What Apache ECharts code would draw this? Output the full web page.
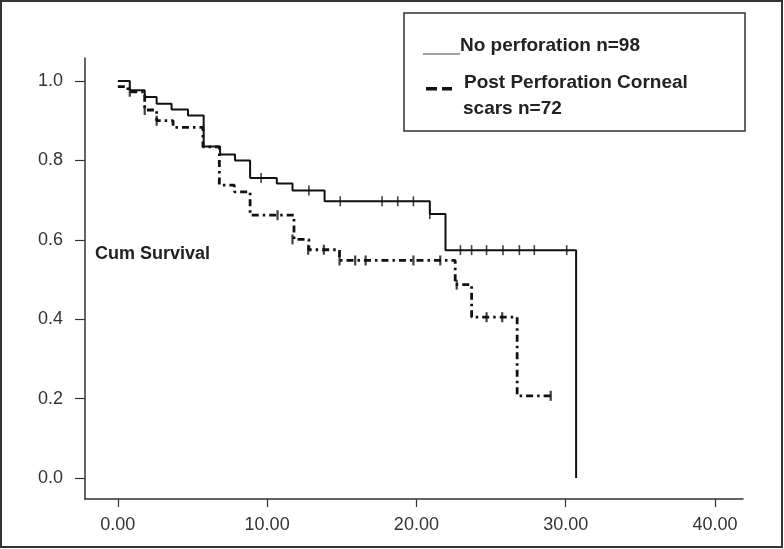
<!DOCTYPE html>
<html><head><meta charset="utf-8">
<script src="https://cdn.jsdelivr.net/npm/echarts@6/dist/echarts.min.js"></script>
<style>html,body{margin:0;padding:0;background:#fff}#c{width:784px;height:549px}</style>
</head><body><div id="c"></div>
<script>
// ---- data ----
const xTicks = [0, 10, 20, 30, 40];
const yTicks = [0, 0.2, 0.4, 0.6, 0.8, 1.0];
// [time, cumulative survival] — Kaplan–Meier step points
const noPerfSteps = [
  [0, 1.0], [0.8, 0.977], [1.8, 0.960], [2.6, 0.943], [3.6, 0.928], [4.7, 0.913],
  [5.75, 0.835], [6.85, 0.815], [7.85, 0.800], [8.86, 0.756], [10.65, 0.742],
  [11.7, 0.724], [13.85, 0.697], [20.9, 0.665], [21.95, 0.574], [30.7, 0.574], [30.7, 0]
];
const noPerfCensored = [
  [9.6, 0.756], [12.8, 0.724], [14.9, 0.697], [17.7, 0.697], [18.75, 0.697], [19.8, 0.697],
  [20.9, 0.665], [22.95, 0.574], [23.7, 0.574], [24.7, 0.574], [25.8, 0.574],
  [26.9, 0.574], [27.9, 0.574], [30.07, 0.574]
];
const postPerfSteps = [
  [0, 0.986], [0.67, 0.973], [1.8, 0.927], [2.6, 0.900], [3.7, 0.883], [5.7, 0.834],
  [6.8, 0.738], [7.8, 0.721], [8.86, 0.662], [11.8, 0.601], [12.8, 0.575],
  [14.85, 0.548], [22.6, 0.487], [23.7, 0.405], [26.75, 0.207], [29.0, 0.207]
];
const postPerfCensored = [
  [0.8, 0.973], [1.8, 0.927], [2.6, 0.900], [10.7, 0.662], [11.7, 0.601], [12.75, 0.575],
  [13.8, 0.575], [14.85, 0.548], [15.9, 0.548], [16.6, 0.548], [19.8, 0.548],
  [21.6, 0.548], [22.7, 0.487], [24.7, 0.405], [25.75, 0.405], [29.0, 0.207]
];
const legendNoPerf = 'No perforation n=98';
const legendPost1 = 'Post Perforation Corneal';
const legendPost2 = 'scars n=72';
const yTitle = 'Cum Survival';

// ---- chart ----
const FONT = '"Liberation Sans", Arial, sans-serif';
const AX = '#333';
const INK = '#111';
const chart = echarts.init(document.getElementById('c'), null, {renderer: 'canvas'});
chart.setOption({
  animation: false,
  backgroundColor: '#fff',
  grid: {left: 85, right: 41, top: 58, bottom: 50},
  xAxis: {
    type: 'value', min: -2.2, max: 41.88,
    splitLine: {show: false},
    axisLine: {show: true, onZero: false, lineStyle: {color: AX, width: 1.5}},
    axisTick: {show: true, customValues: xTicks, length: 8, lineStyle: {color: AX, width: 1.2}},
    axisLabel: {customValues: xTicks, margin: 17, color: '#333', fontSize: 18, fontFamily: FONT,
      formatter: v => v.toFixed(2)}
  },
  yAxis: {
    type: 'value', min: -0.0529, max: 1.058,
    splitLine: {show: false},
    axisLine: {show: true, onZero: false, lineStyle: {color: AX, width: 1.5}},
    axisTick: {show: true, customValues: yTicks, length: 10, lineStyle: {color: AX, width: 1.2}},
    axisLabel: {customValues: yTicks, margin: 22, color: '#333', fontSize: 18, fontFamily: FONT,
      formatter: v => v.toFixed(1)}
  },
  series: [
    {type: 'line', step: 'end', data: noPerfSteps, showSymbol: false,
      lineStyle: {color: INK, width: 2}},
    {type: 'scatter', data: noPerfCensored, symbol: 'rect', symbolSize: [1.6, 10],
      itemStyle: {color: INK}},
    {type: 'line', step: 'end', data: postPerfSteps, showSymbol: false,
      lineStyle: {color: INK, width: 2.8, type: [7, 4, 2.5, 4]}},
    {type: 'scatter', data: postPerfCensored, symbol: 'rect', symbolSize: [2.2, 10],
      itemStyle: {color: INK}}
  ],
  graphic: [
    {type: 'rect', shape: {x: 1, y: 1, width: 781, height: 546},
      style: {fill: 'none', stroke: '#333', lineWidth: 2}, silent: true},
    {type: 'rect', shape: {x: 404, y: 13, width: 341, height: 118},
      style: {fill: '#fff', stroke: '#333', lineWidth: 1.5}, silent: true},
    {type: 'line', shape: {x1: 423, y1: 54, x2: 460, y2: 54},
      style: {stroke: '#444', lineWidth: 1}},
    {type: 'text', x: 460, y: 46, style: {text: legendNoPerf, fill: '#222',
      font: 'bold 19px ' + FONT, verticalAlign: 'middle'}},
    {type: 'rect', shape: {x: 426, y: 87, width: 11, height: 3.5}, style: {fill: '#111'}},
    {type: 'rect', shape: {x: 442, y: 87, width: 10, height: 3.5}, style: {fill: '#111'}},
    {type: 'text', x: 464, y: 83, style: {text: legendPost1, fill: '#222',
      font: 'bold 19px ' + FONT, verticalAlign: 'middle'}},
    {type: 'text', x: 463, y: 109, style: {text: legendPost2, fill: '#222',
      font: 'bold 19px ' + FONT, verticalAlign: 'middle'}},
    {type: 'text', x: 95, y: 254, style: {text: yTitle, fill: '#222',
      font: 'bold 18px ' + FONT, verticalAlign: 'middle'}}
  ]
});
</script>
</body></html>
